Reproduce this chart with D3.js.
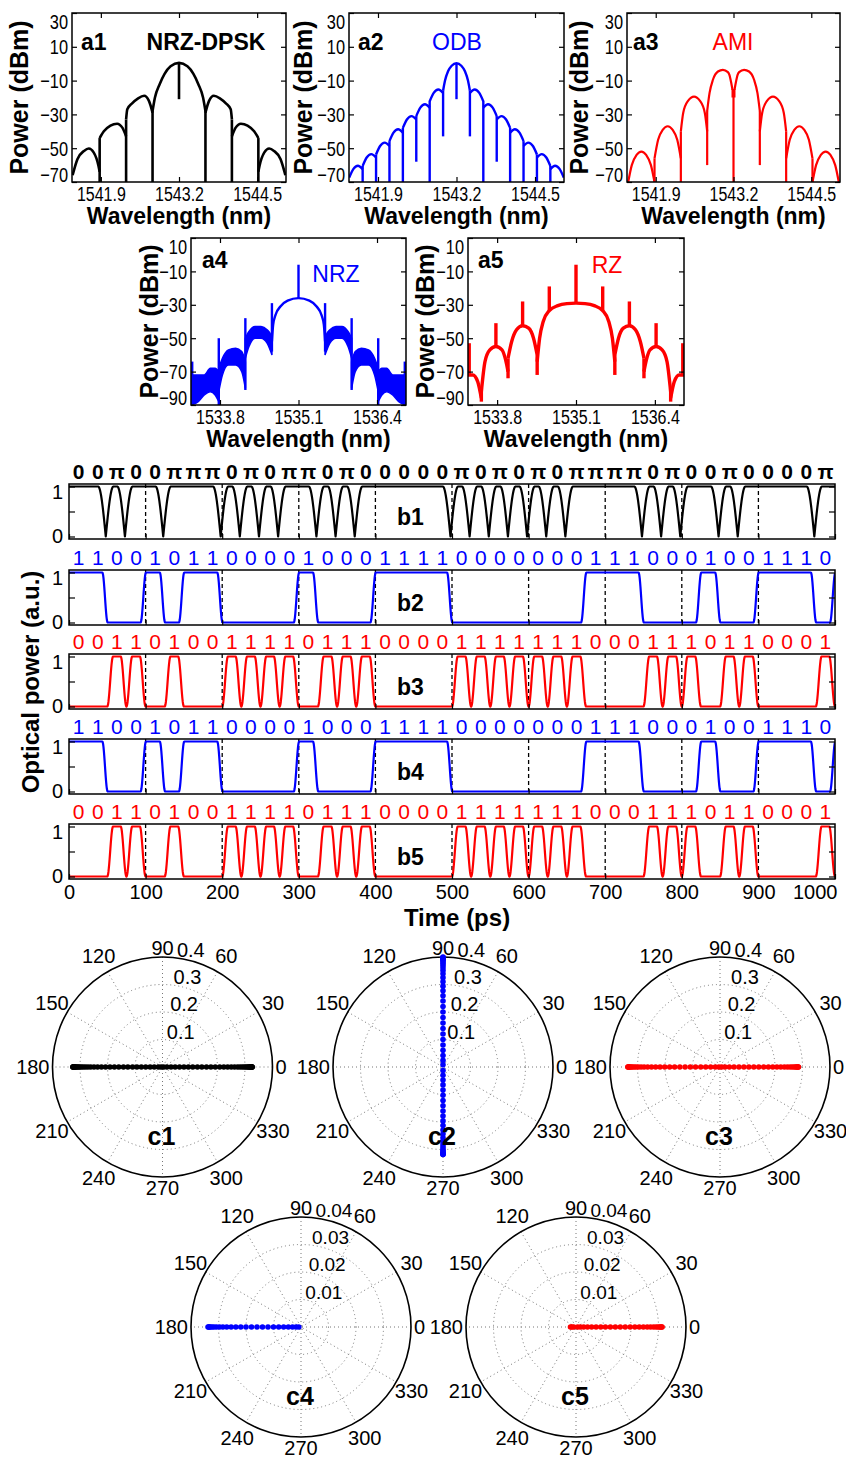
<!DOCTYPE html>
<html>
<head>
<meta charset="utf-8">
<script src="https://cdn.jsdelivr.net/npm/d3@7"></script>
<style>
  body { margin: 0; background: #fff; }
  svg text { font-family: "Liberation Sans", Arial, sans-serif; }
</style>
</head>
<body>
<svg id="fig" width="846" height="1458"></svg>
<script>
// ================= data =================
// wavelength ticks (nm) and power ticks (dBm)
const wlTicksA = [1541.9, 1543.2, 1544.5];
const wlTicksB = [1533.8, 1535.1, 1536.4];
const dbTicksA = [30, 10, -10, -30, -50, -70];
const dbTicksB = [10, -10, -30, -50, -70, -90];

// spectra: lobes = [wavelength, dBm] points; lines = [wavelength, from dBm, to dBm]
const a1Lobes = [
  [[1541.43,-66],[1541.51,-56.5],[1541.62,-51.6],[1541.70,-50.2],[1541.78,-52.5],[1541.86,-60.4],[1541.88,-64]],
  [[1541.88,-44],[1541.95,-40],[1542.06,-36.6],[1542.17,-35.5],[1542.26,-38],[1542.32,-43]],
  [[1542.32,-33],[1542.34,-27],[1542.42,-23.5],[1542.52,-20.5],[1542.62,-19],[1542.70,-22],[1542.76,-29]],
  [[1542.76,-28],[1542.80,-20],[1542.88,-12],[1542.96,-6],[1543.06,-1.5],[1543.2,0.5],[1543.34,-1.5],[1543.44,-6],[1543.52,-12],[1543.60,-20],[1543.64,-28]],
  [[1543.64,-29],[1543.70,-22],[1543.78,-19],[1543.88,-20.5],[1543.98,-23.5],[1544.06,-27],[1544.08,-33]],
  [[1544.08,-43],[1544.14,-38],[1544.23,-35.5],[1544.34,-36.6],[1544.45,-40],[1544.52,-44]],
  [[1544.52,-64],[1544.54,-60.4],[1544.62,-52.5],[1544.70,-50.2],[1544.78,-51.6],[1544.89,-56.5],[1544.97,-66]]
];
const a1Lines = [
  [1541.88,-44,-80],[1542.32,-33,-80],[1542.76,-28,-80],[1543.2,0,-21],
  [1543.64,-28,-80],[1544.08,-33,-80],[1544.52,-44,-80]
];

const a2Lobes = [
  [[1541.424,-67.4],[1541.491,-62.4],[1541.568,-60.4],[1541.646,-62.4]],
  [[1541.646,-60.5],[1541.713,-55.5],[1541.790,-53.5],[1541.868,-55.5]],
  [[1541.868,-53.7],[1541.935,-48.7],[1542.012,-46.7],[1542.090,-48.7]],
  [[1542.090,-45.8],[1542.157,-40.8],[1542.234,-38.8],[1542.312,-40.8]],
  [[1542.312,-38.0],[1542.379,-33.0],[1542.456,-31.0],[1542.534,-33.0]],
  [[1542.534,-31.0],[1542.601,-26.0],[1542.678,-24.0],[1542.756,-26.0]],
  [[1542.756,-22.3],[1542.823,-17.3],[1542.900,-15.3],[1542.978,-17.3]],
  [[1542.978,-16],[1543.01,-10],[1543.06,-4.5],[1543.12,-1.2],[1543.2,0.3],[1543.28,-1.2],[1543.34,-4.5],[1543.39,-10],[1543.422,-16]],
  [[1543.422,-17.3],[1543.500,-15.3],[1543.577,-17.3],[1543.644,-22.3]],
  [[1543.644,-26.0],[1543.722,-24.0],[1543.799,-26.0],[1543.866,-31.0]],
  [[1543.866,-33.0],[1543.944,-31.0],[1544.021,-33.0],[1544.088,-38.0]],
  [[1544.088,-40.8],[1544.166,-38.8],[1544.243,-40.8],[1544.310,-45.8]],
  [[1544.310,-48.7],[1544.388,-46.7],[1544.465,-48.7],[1544.532,-53.7]],
  [[1544.532,-55.5],[1544.610,-53.5],[1544.687,-55.5],[1544.754,-60.5]],
  [[1544.754,-62.4],[1544.832,-60.4],[1544.909,-62.4],[1544.976,-67.4]]
];
const a2Lines = [
  [1543.2,0,-21],
  [1542.978,-16,-43],[1543.422,-16,-43],
  [1542.756,-22,-80],[1543.644,-22,-80],
  [1542.534,-31,-58],[1543.866,-31,-58],
  [1542.312,-38,-80],[1544.088,-38,-80],
  [1542.090,-45.8,-80],[1544.310,-45.8,-80],
  [1541.868,-53.7,-80],[1544.532,-53.7,-80],
  [1541.646,-60.5,-80],[1544.754,-60.5,-80]
];

const a3Lobes = [
  [[1541.44,-70],[1541.50,-60],[1541.58,-54],[1541.66,-52],[1541.74,-54],[1541.82,-60],[1541.88,-70]],
  [[1541.88,-56],[1541.94,-45],[1542.02,-39],[1542.10,-37],[1542.18,-39],[1542.26,-45],[1542.32,-56]],
  [[1542.32,-40],[1542.36,-29],[1542.44,-22],[1542.54,-19.5],[1542.64,-22],[1542.72,-29],[1542.76,-40]],
  [[1542.76,-28],[1542.80,-17.3],[1542.856,-9.5],[1542.94,-4.6],[1543.023,-3.6],[1543.106,-5],[1543.13,-6.5],[1543.16,-11],[1543.183,-15.4]],
  [[1543.217,-15.4],[1543.24,-11],[1543.27,-6.5],[1543.294,-5],[1543.377,-3.6],[1543.46,-4.6],[1543.544,-9.5],[1543.60,-17.3],[1543.64,-28]],
  [[1543.64,-40],[1543.68,-29],[1543.76,-22],[1543.86,-19.5],[1543.96,-22],[1544.04,-29],[1544.08,-40]],
  [[1544.08,-56],[1544.14,-45],[1544.22,-39],[1544.30,-37],[1544.38,-39],[1544.46,-45],[1544.52,-56]],
  [[1544.52,-70],[1544.58,-60],[1544.66,-54],[1544.74,-52],[1544.82,-54],[1544.90,-60],[1544.96,-70]]
];
const a3Lines = [
  [1543.2,-15,-80],[1543.185,-15,-20],[1543.215,-15,-20],
  [1542.76,-28,-60],[1543.64,-28,-60],
  [1542.32,-40,-80],[1544.08,-40,-80],
  [1541.88,-56,-80],[1544.52,-56,-80]
];

const a4Lobes = [
  [[1534.66,-52],[1534.68,-42],[1534.72,-36],[1534.80,-31],[1534.92,-27.5],[1535.1,-26],[1535.28,-27.5],[1535.40,-31],[1535.48,-36],[1535.52,-42],[1535.54,-52]]
];
// noisy side lobes: [wavelength, lower dBm, upper dBm]
const a4Bands = [
  [[1533.32,-90,-72],[1533.44,-88,-72],[1533.54,-84,-72],[1533.64,-82,-68],[1533.72,-84,-68],[1533.78,-88,-70]],
  [[1533.78,-82,-68],[1533.84,-72,-62],[1533.94,-66,-57],[1534.06,-66,-56],[1534.16,-70,-58],[1534.22,-80,-64]],
  [[1534.22,-62,-50],[1534.28,-55,-46],[1534.38,-50,-43],[1534.48,-50,-43],[1534.58,-53,-45],[1534.64,-58,-48],[1534.66,-60,-52]],
  [[1535.54,-60,-52],[1535.56,-58,-48],[1535.62,-53,-45],[1535.72,-50,-43],[1535.82,-50,-43],[1535.92,-55,-46],[1535.98,-62,-50]],
  [[1535.98,-80,-64],[1536.04,-70,-58],[1536.14,-66,-56],[1536.26,-66,-57],[1536.36,-72,-62],[1536.42,-82,-68]],
  [[1536.42,-88,-70],[1536.48,-84,-68],[1536.56,-82,-68],[1536.66,-84,-72],[1536.76,-88,-72],[1536.88,-90,-72]]
];
const a4Lines = [
  [1535.1,-6,-26],[1534.66,-29,-58],[1535.54,-29,-58],[1534.22,-38,-81],[1535.98,-38,-81],
  [1533.78,-50,-90],[1536.42,-50,-90],[1533.34,-64,-90],[1536.86,-64,-90]
];

const a5Lobes = [
  [[1533.32,-72],[1533.40,-72],[1533.48,-76],[1533.54,-86]],
  [[1533.54,-82],[1533.60,-64],[1533.68,-57],[1533.78,-55],[1533.88,-57],[1533.94,-63],[1533.98,-70]],
  [[1533.98,-62],[1534.04,-52],[1534.12,-45],[1534.22,-42.5],[1534.32,-44],[1534.40,-50],[1534.46,-60]],
  [[1534.46,-64],[1534.50,-50],[1534.56,-40],[1534.66,-33.5],[1534.80,-30.5],[1534.95,-29.3],[1535.1,-29],[1535.25,-29.3],[1535.40,-30.5],[1535.54,-33.5],[1535.64,-40],[1535.70,-50],[1535.74,-64]],
  [[1535.74,-60],[1535.80,-50],[1535.88,-44],[1535.98,-42.5],[1536.08,-45],[1536.16,-52],[1536.22,-62]],
  [[1536.22,-70],[1536.26,-63],[1536.32,-57],[1536.42,-55],[1536.52,-57],[1536.60,-64],[1536.66,-82]],
  [[1536.66,-86],[1536.72,-76],[1536.80,-72],[1536.88,-72]]
];
const a5Lines = [
  [1535.1,-6,-29],[1534.66,-19,-33.5],[1535.54,-19,-33.5],[1534.22,-28,-42.5],[1535.98,-28,-42.5],
  [1533.78,-41,-55],[1536.42,-41,-55],[1533.34,-53,-72],[1536.86,-53,-72],
  [1534.46,-60,-72],[1535.74,-60,-72],[1533.98,-62,-74],[1536.22,-62,-74],[1533.54,-80,-88],[1536.66,-80,-88]
];

// time-domain patterns (25 ps slots)
const dpskPhases = ['0','0','π','0','0','π','π','π','0','π','0','π','π','0','π','0','0','0','0','0',
                    'π','0','π','0','π','0','π','π','π','π','0','π','0','0','π','0','0','0','0','π'];
const nrzBits = [1,1,0,0,1,0,1,1,0,0,0,0,1,0,0,0,1,1,1,1,0,0,0,0,0,0,0,1,1,1,0,0,0,1,0,0,1,1,1,0];
const nrzNextBit = 1;
const rzBits  = [0,0,1,1,0,1,0,0,1,1,1,1,0,1,1,1,0,0,0,0,1,1,1,1,1,1,1,0,0,0,1,1,1,0,1,1,0,0,0,1];
const timeTicks = [0,100,200,300,400,500,600,700,800,900,1000];
const powerTicks = [0, 0.5, 1];

// constellations: radii along fixed angles
const polarAngles = [0,30,60,90,120,150,180,210,240,270,300,330];
const c1Right = [0.326,0.325,0.325,0.324,0.323,0.322,0.320,0.318,0.315,0.312,0.308,0.303,0.297,0.290,0.282,0.273,0.262,0.250,0.237,0.223,0.208,0.192,0.176,0.160,0.143,0.127,0.110,0.094,0.078,0.062,0.046,0.031,0.016,0.004];
const c1Left  = [0.326,0.325,0.324,0.324,0.322,0.321,0.319,0.317,0.314,0.310,0.306,0.301,0.295,0.288,0.280,0.271,0.261,0.249,0.236,0.222,0.207,0.191,0.175,0.159,0.142,0.126,0.109,0.093,0.077,0.061,0.045,0.030,0.015,0.005];
const c2Up    = [0.400,0.398,0.395,0.392,0.388,0.383,0.377,0.370,0.361,0.351,0.339,0.325,0.310,0.294,0.277,0.259,0.240,0.220,0.200,0.180,0.160,0.140,0.120,0.100,0.080,0.061,0.042,0.024,0.008];
const c2Down  = [0.318,0.317,0.315,0.312,0.308,0.303,0.297,0.289,0.280,0.269,0.257,0.244,0.229,0.213,0.196,0.178,0.160,0.141,0.122,0.103,0.084,0.065,0.047,0.030,0.013];
const c3Left  = [0.335,0.334,0.332,0.330,0.327,0.323,0.318,0.312,0.305,0.297,0.287,0.276,0.263,0.249,0.234,0.218,0.201,0.183,0.165,0.146,0.127,0.108,0.089,0.070,0.052,0.034,0.017,0.004];
const c3Right = [0.285,0.284,0.282,0.279,0.275,0.270,0.263,0.255,0.245,0.234,0.221,0.207,0.192,0.176,0.159,0.141,0.123,0.105,0.087,0.069,0.051,0.034,0.018,0.006];
const c4Left  = [0.0338,0.0336,0.0333,0.0329,0.0323,0.0316,0.0307,0.0296,0.0284,0.0270,0.0254,0.0237,0.0219,0.0200,0.0180,0.0160,0.0140,0.0120,0.0100,0.0081,0.0063,0.0046,0.0031,0.0018,0.0008];
const c5Right = [0.0313,0.0311,0.0308,0.0304,0.0298,0.0291,0.0282,0.0271,0.0259,0.0245,0.0230,0.0214,0.0197,0.0179,0.0161,0.0143,0.0125,0.0107,0.0090,0.0073,0.0057,0.0042,0.0028,0.0016,0.0006];
const c5Left  = [0.0008,0.0015,0.0020];

// ================= drawing =================
const svg = d3.select('#fig');
const SERIF = '"Liberation Serif", "Times New Roman", serif';
const BLUE = '#0000ff', RED = '#ff0000', BLACK = '#000';

function styleTicks(sel, size, squeeze) {
  sel.select('.domain').remove();
  sel.selectAll('line').attr('stroke', BLACK).attr('stroke-width', 1.2);
  sel.selectAll('text').attr('font-size', size).attr('fill', BLACK)
     .attr('font-family', '"Liberation Sans", Arial, sans-serif');
  if (squeeze) {
    sel.selectAll('text').each(function () {
      const w = this.getComputedTextLength();
      if (w > 0) {
        this.setAttribute('textLength', (w * squeeze).toFixed(1));
        this.setAttribute('lengthAdjust', 'spacingAndGlyphs');
      }
    });
  }
}

function drawSpectrum(p) {
  const x = d3.scaleLinear().domain(p.xDomain).range([p.left, p.right]);
  const y = d3.scaleLinear().domain(p.yDomain).range([p.bottom, p.top]);
  const id = 'clip-' + p.tag;
  svg.append('clipPath').attr('id', id).append('rect')
    .attr('x', p.left).attr('y', p.top).attr('width', p.right - p.left).attr('height', p.bottom - p.top);
  const g = svg.append('g').attr('clip-path', `url(#${id})`);
  const line = d3.line().x(d => x(d[0])).y(d => y(d[1])).curve(d3.curveMonotoneX);
  const area = d3.area().x(d => x(d[0])).y0(d => y(d[1])).y1(d => y(d[2])).curve(d3.curveMonotoneX);
  (p.bands || []).forEach(b => g.append('path').attr('d', area(b))
    .attr('fill', p.color).attr('stroke', p.color).attr('stroke-width', 1.5));
  p.lobes.forEach(l => g.append('path').attr('d', line(l)).attr('fill', 'none')
    .attr('stroke', p.color).attr('stroke-width', p.lw).attr('stroke-linejoin', 'round'));
  p.lines.forEach(l => g.append('line').attr('x1', x(l[0])).attr('x2', x(l[0]))
    .attr('y1', y(l[1])).attr('y2', y(l[2])).attr('stroke', p.color).attr('stroke-width', p.lw));

  // axes with inward ticks on all four sides
  const bx = svg.append('g').attr('transform', `translate(0,${p.bottom})`)
    .call(d3.axisBottom(x).tickValues(p.xTicks).tickFormat(d3.format('.1f')).tickSizeInner(-5).tickSizeOuter(0).tickPadding(5));
  styleTicks(bx, 20, 0.8);
  const tx = svg.append('g').attr('transform', `translate(0,${p.top})`)
    .call(d3.axisTop(x).tickValues(p.xTicks).tickFormat('').tickSizeInner(-5).tickSizeOuter(0));
  styleTicks(tx, 20);
  const ly = svg.append('g').attr('transform', `translate(${p.left},0)`)
    .call(d3.axisLeft(y).tickValues(p.yTicks).tickSizeInner(-5).tickSizeOuter(0).tickPadding(4));
  styleTicks(ly, 21, 0.78);
  const n = p.yTicks.length;
  ly.selectAll('.tick text').attr('dy', (d, i) => i === 0 ? '0.76em' : (i === n - 1 ? '-0.02em' : '0.34em'));
  const ry = svg.append('g').attr('transform', `translate(${p.right},0)`)
    .call(d3.axisRight(y).tickValues(p.yTicks).tickFormat('').tickSizeInner(-5).tickSizeOuter(0));
  styleTicks(ry, 21);

  svg.append('rect').attr('x', p.left).attr('y', p.top).attr('width', p.right - p.left)
    .attr('height', p.bottom - p.top).attr('fill', 'none').attr('stroke', BLACK).attr('stroke-width', 1.5);

  const cx = (p.left + p.right) / 2, cy = (p.top + p.bottom) / 2;
  svg.append('text').attr('x', cx).attr('y', p.bottom + 42).attr('text-anchor', 'middle')
    .attr('font-size', 23).attr('font-weight', 'bold').text('Wavelength (nm)');
  svg.append('text').attr('transform', `translate(${p.left - p.ylabGap},${cy}) rotate(-90)`)
    .attr('text-anchor', 'middle').attr('font-size', 25).attr('font-weight', 'bold').text('Power (dBm)');
  svg.append('text').attr('x', p.left + p.tagDx).attr('y', p.top + p.tagDy)
    .attr('font-family', SERIF).attr('font-weight', 'bold').attr('font-size', 23).text(p.tag);
  svg.append('text').attr('x', p.nameX).attr('y', p.top + p.nameDy).attr('text-anchor', 'middle')
    .attr('font-size', 23).attr('font-weight', p.nameBold ? 'bold' : 'normal').attr('fill', p.color).text(p.name);
}

const domA = [1541.42, 1544.98], domB = [1533.32, 1536.88];
drawSpectrum({tag:'a1', left:72, right:286, top:13, bottom:182, xDomain:domA, yDomain:[-70,30], xTicks:wlTicksA, yTicks:dbTicksA,
  lobes:a1Lobes, lines:a1Lines, color:BLACK, lw:2.6, name:'NRZ-DPSK', nameBold:true, nameX:206, nameDy:37, tagDx:9, tagDy:37, ylabGap:44});
drawSpectrum({tag:'a2', left:349, right:564, top:13, bottom:182, xDomain:domA, yDomain:[-70,30], xTicks:wlTicksA, yTicks:dbTicksA,
  lobes:a2Lobes, lines:a2Lines, color:BLUE, lw:2.4, name:'ODB', nameX:457, nameDy:37, tagDx:9, tagDy:37, ylabGap:37});
drawSpectrum({tag:'a3', left:627, right:840, top:13, bottom:182, xDomain:domA, yDomain:[-70,30], xTicks:wlTicksA, yTicks:dbTicksA,
  lobes:a3Lobes, lines:a3Lines, color:RED, lw:2.2, name:'AMI', nameX:733, nameDy:37, tagDx:6, tagDy:37, ylabGap:39});
drawSpectrum({tag:'a4', left:191, right:406, top:238, bottom:405, xDomain:domB, yDomain:[-90,10], xTicks:wlTicksB, yTicks:dbTicksB,
  lobes:a4Lobes, lines:a4Lines, bands:a4Bands, color:BLUE, lw:2.4, name:'NRZ', nameX:336, nameDy:44, tagDx:11, tagDy:30, ylabGap:33});
drawSpectrum({tag:'a5', left:468, right:684, top:238, bottom:405, xDomain:domB, yDomain:[-90,10], xTicks:wlTicksB, yTicks:dbTicksB,
  lobes:a5Lobes, lines:a5Lines, color:RED, lw:3.4, name:'RZ', nameX:607, nameDy:35, tagDx:10, tagDy:30, ylabGap:34});

// ---------- time-domain waveforms ----------
const SLOT = 25;
const tSamples = d3.range(0, 1000.001, 0.5);

function nrzAt(bits, next, t) {
  const s = t + 3;                       // edges lead the slot boundary slightly
  const bit = i => i < 0 ? bits[0] : (i >= bits.length ? next : bits[i]);
  const k = Math.round(s / SLOT), d = s - k * SLOT, hw = 3.5;
  const a = bit(k - 1), b = bit(k);
  if (d <= -hw) return a;
  if (d >= hw) return b;
  return a + (b - a) * (1 - Math.cos(Math.PI * (d + hw) / (2 * hw))) / 2;
}
function rzAt(bits, t) {
  const i = Math.min(Math.floor(t / SLOT), bits.length - 1);
  if (!bits[i]) return 0;
  const u = t - i * SLOT, e = 7.5;
  if (u < e) return (1 - Math.cos(Math.PI * u / e)) / 2;
  if (u > SLOT - e) return (1 - Math.cos(Math.PI * (SLOT - u) / e)) / 2;
  return 1;
}
function dpskAt(ph, t) {
  const s = t + 2, k = Math.round(s / SLOT), d = Math.abs(s - k * SLOT), w = 10;
  if (k <= 0 || k >= ph.length || ph[k] === ph[k - 1] || d >= w) return 1;
  return Math.sin(Math.PI / 2 * d / w);
}

const xT = d3.scaleLinear().domain([0, 1000]).range([69, 835]);
const rows = [
  {tag:'b1', top:484, color:BLACK, labels:dpskPhases, bold:true,  f:t => dpskAt(dpskPhases, t)},
  {tag:'b2', top:570, color:BLUE,  labels:nrzBits,   bold:false, f:t => nrzAt(nrzBits, nrzNextBit, t)},
  {tag:'b3', top:654, color:RED,   labels:rzBits,    bold:false, f:t => rzAt(rzBits, t)},
  {tag:'b4', top:739, color:BLUE,  labels:nrzBits,   bold:false, f:t => nrzAt(nrzBits, nrzNextBit, t)},
  {tag:'b5', top:824, color:RED,   labels:rzBits,    bold:false, f:t => rzAt(rzBits, t)}
];
const rowH = 55;
rows.forEach((r, ri) => {
  const y = d3.scaleLinear().domain([-0.05, 1.05]).range([r.top + rowH, r.top]);
  const id = 'clip-' + r.tag;
  svg.append('clipPath').attr('id', id).append('rect').attr('x', xT(0)).attr('y', r.top - 1)
    .attr('width', xT(1000) - xT(0)).attr('height', rowH + 2);
  // slot-group markers every 100 ps
  svg.append('g').selectAll('line').data(timeTicks.slice(1, -1)).join('line')
    .attr('x1', d => xT(d)).attr('x2', d => xT(d)).attr('y1', r.top).attr('y2', r.top + rowH)
    .attr('stroke', BLACK).attr('stroke-width', 1.3).attr('stroke-dasharray', '4,3');
  svg.append('path').attr('clip-path', `url(#${id})`)
    .attr('d', d3.line().x(t => xT(t)).y(t => y(r.f(t)))(tSamples))
    .attr('fill', 'none').attr('stroke', r.color).attr('stroke-width', 2.2).attr('stroke-linejoin', 'round');

  const last = ri === rows.length - 1;
  const bx = svg.append('g').attr('transform', `translate(0,${r.top + rowH})`)
    .call(d3.axisBottom(xT).tickValues(timeTicks).tickSizeInner(-5).tickSizeOuter(0).tickPadding(6)
      .tickFormat(last ? d3.format('d') : ''));
  styleTicks(bx, 20);
  if (last) bx.selectAll('.tick text').filter(d => d === 1000).attr('text-anchor', 'end').attr('x', 2);
  const ly = svg.append('g').attr('transform', `translate(${xT(0)},0)`)
    .call(d3.axisLeft(y).tickValues(powerTicks).tickSizeInner(-6).tickSizeOuter(0).tickPadding(6)
      .tickFormat(d => d === 0.5 ? '' : d3.format('d')(d)));
  styleTicks(ly, 20);
  ly.selectAll('.tick text').attr('dy', d => d === 1 ? '0.6em' : '0.3em');
  const ry = svg.append('g').attr('transform', `translate(${xT(1000)},0)`)
    .call(d3.axisRight(y).tickValues(powerTicks).tickFormat('').tickSizeInner(-6).tickSizeOuter(0));
  styleTicks(ry, 20);
  svg.append('rect').attr('x', xT(0)).attr('y', r.top).attr('width', xT(1000) - xT(0)).attr('height', rowH)
    .attr('fill', 'none').attr('stroke', BLACK).attr('stroke-width', 1.5);

  // symbol labels above each slot
  svg.append('g').selectAll('text').data(r.labels).join('text')
    .attr('x', (d, i) => xT(i * SLOT + SLOT / 2)).attr('y', r.top - 5).attr('text-anchor', 'middle')
    .attr('font-size', 21).attr('font-weight', r.bold ? 'bold' : 'normal')
    .attr('fill', r.color).text(d => d);
  svg.append('text').attr('x', 397).attr('y', r.top + 41).attr('font-family', SERIF)
    .attr('font-weight', 'bold').attr('font-size', 23).text(r.tag);
});
svg.append('text').attr('x', 457).attr('y', 926).attr('text-anchor', 'middle')
  .attr('font-size', 24).attr('font-weight', 'bold').text('Time (ps)');
svg.append('text').attr('transform', 'translate(39,682) rotate(-90)').attr('text-anchor', 'middle')
  .attr('font-size', 24).attr('font-weight', 'bold').text('Optical power (a.u.)');

// ---------- polar constellations ----------
function drawPolar(p) {
  const R = p.R;
  const r = d3.scaleLinear().domain([0, p.rMax]).range([0, R]);
  const g = svg.append('g');
  const pt = (deg, rad) => [p.cx + rad * Math.cos(deg * Math.PI / 180), p.cy - rad * Math.sin(deg * Math.PI / 180)];
  p.rings.forEach(v => g.append('circle').attr('cx', p.cx).attr('cy', p.cy).attr('r', r(v))
    .attr('fill', 'none').attr('stroke', '#777').attr('stroke-width', 1).attr('stroke-dasharray', '1,3'));
  polarAngles.filter(a => a < 180).forEach(a => {
    const [x1, y1] = pt(a, R), [x2, y2] = pt(a + 180, R);
    g.append('line').attr('x1', x1).attr('y1', y1).attr('x2', x2).attr('y2', y2)
      .attr('stroke', '#777').attr('stroke-width', 1).attr('stroke-dasharray', '1,3');
  });
  g.append('circle').attr('cx', p.cx).attr('cy', p.cy).attr('r', R).attr('fill', 'none')
    .attr('stroke', BLACK).attr('stroke-width', 1.6);
  // angle labels
  polarAngles.forEach(a => {
    let x, y, anchor = 'middle';
    if (a === 0) { x = p.cx + R + 3; y = p.cy; anchor = 'start'; }
    else if (a === 180) { x = p.cx - R - 3; y = p.cy; anchor = 'end'; }
    else if (a === 90) { x = p.cx; y = p.cy - R - 9; }
    else if (a === 270) { x = p.cx; y = p.cy + R + 11; }
    else [x, y] = pt(a, R * 1.16);
    g.append('text').attr('x', x).attr('y', y).attr('dy', '0.35em').attr('text-anchor', anchor)
      .attr('font-size', 20).text(a);
  });
  // radial labels along 83 degrees
  p.rings.concat([p.rMax]).forEach(v => {
    const [x, y] = pt(83, r(v));
    g.append('text').attr('x', x + 1).attr('y', y - 1).attr('font-size', p.rFont).text(p.fmt(v));
  });
  p.series.forEach(s => {
    g.append('g').selectAll('circle').data(s.radii).join('circle')
      .attr('cx', d => pt(s.angle, r(d))[0]).attr('cy', d => pt(s.angle, r(d))[1])
      .attr('r', 2.8).attr('fill', p.color);
  });
  g.append('text').attr('x', p.cx - 1).attr('y', p.cy + 78).attr('text-anchor', 'middle')
    .attr('font-family', SERIF).attr('font-weight', 'bold').attr('font-size', 25).text(p.tag);
}
const f1 = d3.format('.1f'), f2 = d3.format('.2f');
drawPolar({tag:'c1', cx:162.5, cy:1067, R:110, rMax:0.4, rings:[0.1,0.2,0.3], fmt:f1, rFont:20, color:BLACK,
  series:[{angle:0, radii:c1Right}, {angle:180, radii:c1Left}]});
drawPolar({tag:'c2', cx:443, cy:1067, R:110, rMax:0.4, rings:[0.1,0.2,0.3], fmt:f1, rFont:20, color:BLUE,
  series:[{angle:90, radii:c2Up}, {angle:270, radii:c2Down}]});
drawPolar({tag:'c3', cx:720, cy:1067, R:110, rMax:0.4, rings:[0.1,0.2,0.3], fmt:f1, rFont:20, color:RED,
  series:[{angle:180, radii:c3Left}, {angle:0, radii:c3Right}]});
drawPolar({tag:'c4', cx:301, cy:1327, R:110, rMax:0.04, rings:[0.01,0.02,0.03], fmt:f2, rFont:19, color:BLUE,
  series:[{angle:180, radii:c4Left}]});
drawPolar({tag:'c5', cx:576, cy:1327, R:110, rMax:0.04, rings:[0.01,0.02,0.03], fmt:f2, rFont:19, color:RED,
  series:[{angle:0, radii:c5Right}, {angle:180, radii:c5Left}]});
</script>
</body>
</html>
